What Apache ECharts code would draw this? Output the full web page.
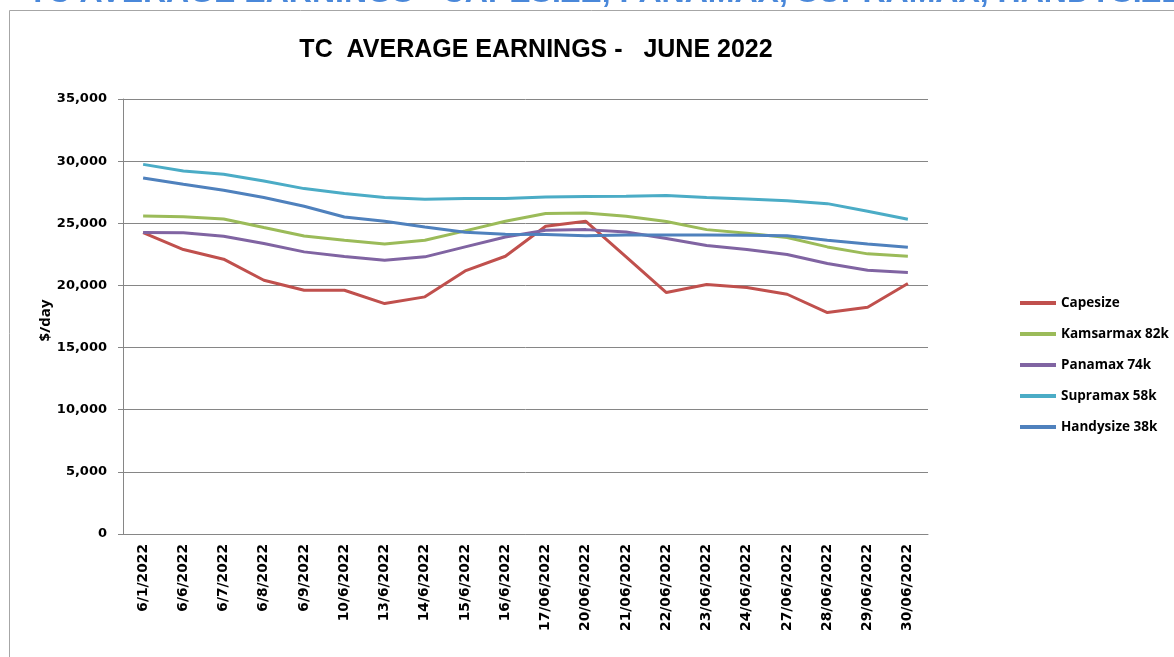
<!DOCTYPE html>
<html>
<head>
<meta charset="utf-8">
<script src="https://cdn.jsdelivr.net/npm/echarts@6/dist/echarts.min.js"></script>
<style>
html,body{margin:0;padding:0;background:#fff;}
#chart{width:1174px;height:657px;}
</style>
</head>
<body>
<div id="chart"></div>
<script>
var categories = ['6/1/2022','6/6/2022','6/7/2022','6/8/2022','6/9/2022','10/6/2022','13/6/2022','14/6/2022','15/6/2022','16/6/2022','17/06/2022','20/06/2022','21/06/2022','22/06/2022','23/06/2022','24/06/2022','27/06/2022','28/06/2022','29/06/2022','30/06/2022'];
var capesize  = [24250, 22890, 22110, 20420, 19610, 19610, 18540, 19080, 21170, 22350, 24760, 25160, 22300, 19430, 20070, 19830, 19290, 17820, 18250, 20150];
var kamsarmax = [25590, 25530, 25350, 24660, 23980, 23640, 23340, 23640, 24390, 25160, 25780, 25830, 25560, 25140, 24490, 24200, 23850, 23100, 22540, 22350];
var panamax   = [24250, 24230, 23960, 23370, 22700, 22330, 22030, 22300, 23100, 23900, 24440, 24490, 24300, 23770, 23210, 22890, 22490, 21760, 21220, 21040];
var supramax  = [29740, 29200, 28940, 28400, 27790, 27390, 27070, 26930, 26990, 26990, 27120, 27150, 27170, 27230, 27070, 26960, 26820, 26580, 25970, 25320];
var handysize = [28650, 28140, 27650, 27070, 26370, 25510, 25160, 24700, 24280, 24120, 24100, 24000, 24060, 24060, 24060, 24040, 24000, 23630, 23340, 23070];
var seriesNames = ['Capesize','Kamsarmax 82k','Panamax 74k','Supramax 58k','Handysize 38k'];
var seriesData = [capesize, kamsarmax, panamax, supramax, handysize];
var colors = ['#C0504D','#9BBB59','#8064A2','#4BACC6','#4F81BD'];
var chartTitle = 'TC  AVERAGE EARNINGS -   JUNE 2022';
var bannerText = 'TC AVERAGE EARNINGS - CAPESIZE, PANAMAX, SUPRAMAX, HANDYSIZE';

var chart = echarts.init(document.getElementById('chart'), null, {renderer:'canvas'});
var series = seriesNames.map(function(n,i){
  return {
    name:n, type:'line', data:seriesData[i], showSymbol:false, symbol:'none',
    lineStyle:{width:3, color:colors[i]}, itemStyle:{color:colors[i]},
    emphasis:{disabled:true}, animation:false
  };
});
chart.setOption({
  animation:false,
  color:colors,
  title:{
    text:chartTitle, left:531, top:33, textAlign:'center',
    textStyle:{fontFamily:'Liberation Sans', fontWeight:'bold', fontSize:25, color:'#000'}
  },
  graphic:[
    {type:'line', shape:{x1:9.5,y1:10.5,x2:1174,y2:10.5}, style:{stroke:'#A6A6A6', lineWidth:1}},
    {type:'line', shape:{x1:9.5,y1:10.5,x2:9.5,y2:657}, style:{stroke:'#A6A6A6', lineWidth:1}},
    {type:'text', left:28, top:-23, style:{text:bannerText, fill:'#4A88DA', font:'bold 32px "Liberation Sans"'}}
  ],
  legend:{
    orient:'vertical', left:1015, top:290, icon:'rect', itemWidth:36, itemHeight:4, itemGap:15,
    data:seriesNames,
    textStyle:{fontFamily:'Open Sans', fontWeight:'bold', fontSize:13.5, lineHeight:16, color:'#000'}
  },
  grid:{left:123, right:246, top:99, bottom:123, containLabel:false},
  xAxis:{
    type:'category', data:categories, boundaryGap:true,
    axisLine:{lineStyle:{color:'#868686', width:1}},
    axisTick:{show:false},
    axisLabel:{rotate:90, interval:0, margin:10, color:'#000', fontFamily:'DejaVu Sans', fontWeight:'bold', fontSize:13.8}
  },
  yAxis:{
    type:'value', min:0, max:35000, interval:5000,
    name:'$/day', nameLocation:'middle', nameRotate:90, nameGap:70, nameMoveOverlap:false,
    nameTextStyle:{fontFamily:'Open Sans', fontWeight:'bold', fontSize:15, color:'#000', padding:[0,8,0,0]},
    axisLine:{show:true, lineStyle:{color:'#868686', width:1}},
    axisTick:{show:true, length:5, lineStyle:{color:'#868686'}},
    splitLine:{show:true, lineStyle:{color:'#868686', width:1}},
    axisLabel:{margin:16, color:'#000', fontFamily:'DejaVu Sans', fontWeight:'bold', fontSize:13,
      formatter:function(v){return v.toLocaleString('en-US');}}
  },
  series:series
});
</script>
</body>
</html>
